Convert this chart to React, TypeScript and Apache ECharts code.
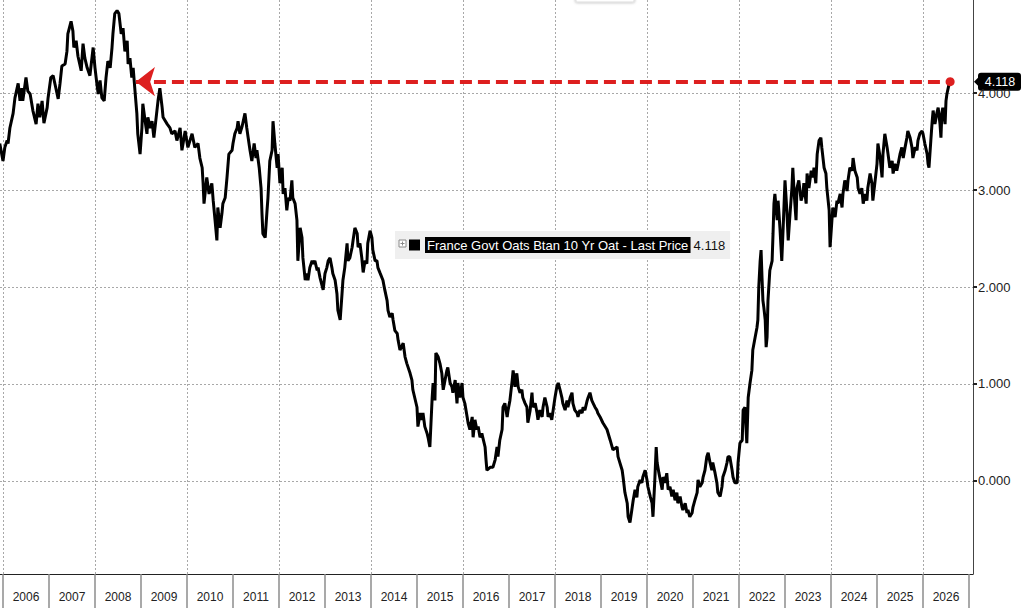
import React, { useEffect, useRef } from 'react';
import * as echarts from 'echarts';

// France Govt OAT 10Y yield, [fractional year, yield %]
const yields2006to2009: [number, number][] = [
  [2005.93,3.48],[2006.00,3.30],[2006.04,3.44],[2006.09,3.51],[2006.11,3.48],[2006.15,3.64],[2006.22,3.79],[2006.26,3.95],[2006.33,4.10],[2006.37,3.92],[2006.41,4.05],[2006.43,3.92],[2006.50,4.16],[2006.54,4.02],[2006.59,3.99],[2006.65,3.82],[2006.72,3.68],[2006.76,3.89],[2006.80,3.75],[2006.85,3.92],[2006.89,3.69],[2006.96,3.85],[2006.98,3.95],
  [2007.04,4.16],[2007.09,4.18],[2007.15,4.05],[2007.20,3.94],[2007.24,4.10],[2007.28,4.28],[2007.35,4.30],[2007.39,4.43],[2007.41,4.61],[2007.48,4.74],[2007.52,4.64],[2007.54,4.47],[2007.59,4.54],[2007.63,4.38],[2007.70,4.23],[2007.74,4.51],[2007.78,4.36],[2007.83,4.26],[2007.89,4.18],[2007.96,4.47],
  [2008.00,4.26],[2008.04,4.10],[2008.07,3.99],[2008.11,4.13],[2008.15,3.95],[2008.20,3.92],[2008.24,4.16],[2008.28,4.33],[2008.33,4.26],[2008.37,4.47],[2008.39,4.61],[2008.43,4.82],[2008.48,4.85],[2008.52,4.82],[2008.57,4.61],[2008.61,4.67],[2008.65,4.43],[2008.70,4.54],[2008.72,4.30],[2008.76,4.36],[2008.80,4.16],[2008.83,4.26],[2008.87,4.02],[2008.91,3.79],[2008.93,3.58],[2008.98,3.37],
  [2009.02,3.64],[2009.04,3.89],[2009.09,3.71],[2009.13,3.58],[2009.15,3.75],[2009.20,3.64],[2009.24,3.71],[2009.28,3.54],[2009.33,3.75],[2009.37,3.92],[2009.41,4.05],[2009.46,3.85],[2009.48,3.75],[2009.57,3.68],[2009.63,3.64],[2009.67,3.58],[2009.74,3.61],[2009.78,3.51],[2009.85,3.64],[2009.89,3.41],[2009.96,3.61],
];

const yields2010to2014: [number, number][] = [
  [2010.02,3.44],[2010.11,3.58],[2010.17,3.44],[2010.24,3.48],[2010.28,3.33],[2010.33,3.23],[2010.35,3.07],[2010.37,2.86],[2010.43,3.13],[2010.48,2.96],[2010.54,3.07],[2010.57,2.89],[2010.61,2.69],[2010.65,2.48],[2010.67,2.82],[2010.72,2.61],[2010.76,2.76],[2010.78,2.86],[2010.83,2.92],[2010.87,3.13],[2010.91,3.37],[2010.98,3.41],
  [2011.00,3.48],[2011.04,3.58],[2011.09,3.64],[2011.11,3.71],[2011.15,3.58],[2011.20,3.66],[2011.26,3.79],[2011.30,3.64],[2011.33,3.54],[2011.37,3.41],[2011.41,3.30],[2011.46,3.48],[2011.50,3.33],[2011.52,3.41],[2011.57,3.23],[2011.61,3.02],[2011.63,2.76],[2011.65,2.55],[2011.70,2.51],[2011.74,2.79],[2011.76,2.92],[2011.80,3.30],[2011.85,3.41],[2011.87,3.71],[2011.91,3.48],[2011.96,3.23],[2011.98,3.37],
  [2012.02,3.07],[2012.07,3.23],[2012.09,2.96],[2012.13,3.02],[2012.17,2.79],[2012.20,2.92],[2012.24,2.89],[2012.28,3.10],[2012.30,2.92],[2012.35,2.86],[2012.39,2.69],[2012.41,2.27],[2012.46,2.61],[2012.50,2.51],[2012.52,2.30],[2012.57,2.07],[2012.61,2.14],[2012.63,2.07],[2012.67,2.20],[2012.72,2.27],[2012.74,2.24],[2012.78,2.27],[2012.83,2.17],[2012.85,2.20],[2012.89,2.10],[2012.96,1.97],
  [2013.00,2.14],[2013.04,2.20],[2013.07,2.27],[2013.11,2.30],[2013.15,2.20],[2013.17,2.14],[2013.22,2.07],[2013.26,1.93],[2013.28,1.76],[2013.33,1.66],[2013.37,1.93],[2013.39,2.07],[2013.43,2.20],[2013.48,2.45],[2013.50,2.27],[2013.54,2.30],[2013.59,2.41],[2013.61,2.48],[2013.65,2.61],[2013.70,2.55],[2013.72,2.41],[2013.76,2.45],[2013.80,2.30],[2013.83,2.15],[2013.87,2.27],[2013.91,2.24],[2013.93,2.45],[2013.98,2.58],
  [2014.02,2.51],[2014.04,2.38],[2014.09,2.27],[2014.13,2.27],[2014.15,2.20],[2014.20,2.14],[2014.26,2.07],[2014.30,1.97],[2014.35,1.86],[2014.37,1.76],[2014.41,1.69],[2014.46,1.73],[2014.48,1.66],[2014.52,1.55],[2014.57,1.52],[2014.59,1.45],[2014.63,1.35],[2014.70,1.42],[2014.74,1.28],[2014.78,1.21],[2014.85,1.11],[2014.89,1.04],[2014.91,0.94],
];

const yields2015to2019: [number, number][] = [
  [2015.00,0.76],[2015.02,0.56],[2015.07,0.70],[2015.11,0.63],[2015.13,0.70],[2015.17,0.56],[2015.22,0.49],[2015.24,0.45],[2015.28,0.35],[2015.33,0.86],[2015.35,1.01],[2015.39,0.83],[2015.41,1.32],[2015.46,1.28],[2015.50,1.21],[2015.54,1.11],[2015.57,0.94],[2015.61,1.04],[2015.65,1.14],[2015.67,1.17],[2015.72,1.01],[2015.76,0.97],[2015.78,0.91],[2015.83,1.04],[2015.87,0.80],[2015.89,1.01],[2015.93,0.86],[2015.98,1.01],
  [2016.00,0.86],[2016.04,0.80],[2016.09,0.66],[2016.11,0.60],[2016.15,0.53],[2016.20,0.66],[2016.22,0.45],[2016.26,0.63],[2016.30,0.53],[2016.33,0.56],[2016.37,0.45],[2016.41,0.49],[2016.43,0.45],[2016.48,0.35],[2016.50,0.22],[2016.52,0.11],[2016.59,0.14],[2016.65,0.14],[2016.70,0.22],[2016.74,0.35],[2016.76,0.25],[2016.80,0.42],[2016.85,0.53],[2016.87,0.76],[2016.91,0.80],[2016.96,0.66],[2016.98,0.73],
  [2017.02,0.83],[2017.07,1.04],[2017.09,1.14],[2017.13,0.97],[2017.17,1.11],[2017.20,0.97],[2017.24,0.91],[2017.28,0.94],[2017.30,0.86],[2017.35,0.80],[2017.39,0.76],[2017.41,0.60],[2017.46,0.73],[2017.50,0.91],[2017.52,0.76],[2017.57,0.80],[2017.61,0.70],[2017.63,0.63],[2017.67,0.73],[2017.72,0.66],[2017.74,0.76],[2017.78,0.86],[2017.83,0.76],[2017.85,0.66],[2017.89,0.70],[2017.93,0.63],[2017.96,0.73],
  [2018.00,0.86],[2018.04,0.97],[2018.07,1.01],[2018.11,0.94],[2018.15,0.86],[2018.17,0.80],[2018.22,0.73],[2018.26,0.83],[2018.28,0.76],[2018.33,0.86],[2018.37,0.91],[2018.39,0.80],[2018.43,0.73],[2018.48,0.70],[2018.50,0.66],[2018.54,0.73],[2018.59,0.70],[2018.61,0.76],[2018.65,0.73],[2018.70,0.83],[2018.72,0.86],[2018.76,0.91],[2018.80,0.83],[2018.83,0.80],[2018.87,0.76],[2018.91,0.73],[2018.93,0.70],[2018.98,0.66],
  [2019.04,0.60],[2019.13,0.53],[2019.20,0.42],[2019.26,0.32],[2019.35,0.35],[2019.37,0.25],[2019.46,0.11],[2019.48,0.04],[2019.52,-0.12],[2019.57,-0.23],[2019.59,-0.37],[2019.63,-0.43],[2019.67,-0.30],[2019.70,-0.20],[2019.74,-0.09],[2019.78,-0.17],[2019.80,-0.06],[2019.85,0.01],[2019.89,-0.02],[2019.91,0.04],[2019.96,0.11],
];

const yields2020to2022: [number, number][] = [
  [2020.00,0.01],[2020.02,-0.06],[2020.07,-0.16],[2020.11,-0.23],[2020.13,-0.37],[2020.17,0.01],[2020.20,0.35],[2020.22,0.19],[2020.26,0.08],[2020.33,-0.09],[2020.35,0.04],[2020.39,-0.02],[2020.43,0.08],[2020.46,-0.09],[2020.50,-0.06],[2020.54,-0.16],[2020.57,-0.09],[2020.61,-0.20],[2020.65,-0.12],[2020.67,-0.23],[2020.72,-0.16],[2020.76,-0.27],[2020.78,-0.30],[2020.83,-0.23],[2020.87,-0.33],[2020.89,-0.30],[2020.93,-0.37],[2020.98,-0.33],
  [2021.00,-0.27],[2021.04,-0.20],[2021.09,-0.12],[2021.11,0.01],[2021.15,-0.06],[2021.20,-0.02],[2021.22,0.04],[2021.26,0.11],[2021.30,0.25],[2021.33,0.29],[2021.37,0.19],[2021.41,0.11],[2021.43,0.19],[2021.48,0.08],[2021.52,-0.02],[2021.54,-0.12],[2021.59,-0.16],[2021.63,-0.06],[2021.65,0.04],[2021.70,0.11],[2021.74,0.19],[2021.76,0.25],[2021.80,0.25],[2021.85,0.11],[2021.87,0.04],[2021.91,-0.02],[2021.96,-0.02],[2021.98,0.19],
  [2022.02,0.39],[2022.07,0.42],[2022.09,0.73],[2022.13,0.76],[2022.17,0.39],[2022.20,0.86],[2022.24,1.01],[2022.28,1.14],[2022.30,1.35],[2022.35,1.48],[2022.39,1.58],[2022.41,1.66],[2022.43,2.00],[2022.46,2.27],[2022.48,2.38],[2022.50,2.10],[2022.52,1.86],[2022.54,1.79],[2022.57,1.66],[2022.59,1.38],[2022.61,1.48],[2022.63,1.86],[2022.67,2.17],[2022.72,2.27],[2022.74,2.55],[2022.76,2.86],[2022.78,2.96],[2022.83,2.69],[2022.85,2.89],[2022.89,2.61],[2022.93,2.27],[2022.96,2.61],
];

const yields2023to2026: [number, number][] = [
  [2023.00,3.10],[2023.04,2.79],[2023.07,2.48],[2023.11,2.76],[2023.15,3.02],[2023.17,3.23],[2023.20,2.96],[2023.24,2.69],[2023.26,3.02],[2023.30,3.10],[2023.35,2.89],[2023.39,2.96],[2023.41,3.07],[2023.46,2.86],[2023.48,3.17],[2023.52,3.02],[2023.57,3.20],[2023.61,3.13],[2023.63,3.23],[2023.67,3.07],[2023.70,3.37],[2023.74,3.51],[2023.78,3.54],[2023.80,3.44],[2023.85,3.23],[2023.89,3.17],[2023.91,3.02],[2023.96,2.79],[2023.98,2.41],
  [2024.02,2.69],[2024.04,2.82],[2024.09,2.72],[2024.13,2.89],[2024.15,2.86],[2024.20,2.96],[2024.24,2.82],[2024.26,2.96],[2024.30,3.10],[2024.35,2.99],[2024.37,3.10],[2024.41,3.23],[2024.46,3.20],[2024.48,3.33],[2024.52,3.20],[2024.57,3.13],[2024.59,3.02],[2024.63,2.96],[2024.67,3.02],[2024.70,2.86],[2024.74,2.96],[2024.78,2.89],[2024.80,3.02],[2024.85,3.17],[2024.89,3.07],[2024.91,2.89],[2024.96,3.10],
  [2025.00,3.27],[2025.02,3.48],[2025.07,3.33],[2025.11,3.13],[2025.13,3.37],[2025.17,3.58],[2025.22,3.44],[2025.24,3.37],[2025.28,3.23],[2025.33,3.30],[2025.35,3.17],[2025.39,3.27],[2025.43,3.20],[2025.46,3.27],[2025.50,3.37],[2025.54,3.44],[2025.57,3.33],[2025.61,3.44],[2025.65,3.54],[2025.67,3.61],[2025.72,3.54],[2025.76,3.44],[2025.78,3.33],[2025.83,3.44],[2025.87,3.41],[2025.89,3.51],[2025.93,3.58],[2025.98,3.61],
  [2026.00,3.58],[2026.04,3.48],[2026.09,3.37],[2026.11,3.27],[2026.13,3.23],[2026.17,3.51],[2026.20,3.71],[2026.22,3.82],[2026.26,3.68],[2026.30,3.79],[2026.33,3.85],[2026.37,3.68],[2026.39,3.54],[2026.41,3.79],[2026.43,3.85],[2026.48,3.68],[2026.50,3.92],[2026.52,3.99],[2026.57,4.10],[2026.59,4.118],
];

const yearTicks = [2006,2007,2008,2009,2010,2011,2012,2013,2014,2015,2016,2017,2018,2019,2020,2021,2022,2023,2024,2025,2026,2027];
const yearLabels = [2006,2007,2008,2009,2010,2011,2012,2013,2014,2015,2016,2017,2018,2019,2020,2021,2022,2023,2024,2025,2026];
const gridYears = [2006,2008,2010,2012,2014,2016,2018,2020,2022,2024,2026];
const yTicks = [0, 1, 2, 3, 4];

const X_MIN = 2005.935;
const X_MAX = 2027.087;
const Y_MIN = -0.96;
const Y_MAX = 4.96;
const SERIES_NAME = 'France Govt Oats Btan 10 Yr Oat - Last Price';
const ARROW_YEAR = 2008.89;

const FONT = 'Liberation Sans, Arial, sans-serif';

export default function App() {
  const ref = useRef<HTMLDivElement>(null);

  useEffect(() => {
    const el = ref.current;
    if (!el) return;
    const chart = echarts.init(el, null, { renderer: 'svg' });
    const data = [
      ...yields2006to2009,
      ...yields2010to2014,
      ...yields2015to2019,
      ...yields2020to2022,
      ...yields2023to2026,
    ];
    const last = data[data.length - 1];
    const lastLabel = last[1].toFixed(3);

    const dotted = { color: '#a8a8a8', type: [2, 2] as number[], width: 1 };

    chart.setOption({
      animation: false,
      backgroundColor: '#ffffff',
      textStyle: { fontFamily: FONT },
      grid: { left: 0, right: 51, top: 0, bottom: 34, containLabel: false },
      legend: {
        left: 395,
        top: 231,
        padding: [6, 5, 6, 14],
        backgroundColor: '#efefef',
        itemWidth: 11,
        itemHeight: 11,
        selectedMode: false,
        z: 6,
        data: [{ name: SERIES_NAME, icon: 'rect', itemStyle: { color: '#000' } }],
        formatter: (name: string) => `{a|${name}}{b|${lastLabel}}`,
        textStyle: {
          fontFamily: FONT,
          rich: {
            a: { color: '#fff', backgroundColor: '#000', fontSize: 13, padding: [2, 2, 1, 2], fontFamily: FONT },
            b: { color: '#111', fontSize: 13, padding: [0, 0, 0, 3], fontFamily: FONT },
          },
        },
      },
      xAxis: [
        {
          type: 'value',
          min: X_MIN,
          max: X_MAX,
          position: 'bottom',
          axisLine: { show: true, onZero: false, lineStyle: { color: '#222', width: 1 } },
          axisTick: { show: true, customValues: yearTicks, length: 34, lineStyle: { color: '#8c8c8c', width: 1.5 } },
          axisLabel: {
            customValues: yearLabels.map((y) => y + 0.5),
            formatter: (v: number) => String(Math.floor(v)),
            color: '#222',
            fontSize: 12,
            margin: 17,
            fontFamily: FONT,
          },
          splitLine: { show: false },
        },
        {
          type: 'value',
          min: X_MIN,
          max: X_MAX,
          position: 'top',
          axisLine: { show: false },
          axisTick: { show: false, customValues: gridYears },
          axisLabel: { show: false },
          splitLine: { show: true, lineStyle: dotted },
        },
      ],
      yAxis: {
        type: 'value',
        position: 'right',
        min: Y_MIN,
        max: Y_MAX,
        axisLine: { show: true, onZero: false, lineStyle: { color: '#444', width: 1 } },
        axisTick: { show: true, customValues: yTicks, length: 4, lineStyle: { color: '#222', width: 2 } },
        axisLabel: {
          customValues: yTicks,
          formatter: (v: number) => v.toFixed(3),
          color: '#222',
          fontSize: 13,
          margin: 5,
          fontFamily: FONT,
        },
        splitLine: { show: true, lineStyle: dotted },
      },
      series: [
        {
          name: SERIES_NAME,
          type: 'line',
          data,
          showSymbol: false,
          symbol: 'none',
          color: '#000',
          lineStyle: { color: '#000', width: 3 },
          z: 3,
          markLine: {
            silent: true,
            animation: false,
            z: 5,
            label: { show: false },
            lineStyle: { color: '#dd1f1f', width: 4, type: [12, 6] },
            data: [
              [
                { coord: [ARROW_YEAR, last[1]], symbol: 'arrow', symbolSize: [22, 19] },
                { coord: [last[0], last[1]], symbol: 'circle', symbolSize: 9 },
              ],
            ],
          },
        },
      ],
    });

    const yPix = chart.convertToPixel({ yAxisIndex: 0 }, last[1]) as number;
    const axisX = chart.convertToPixel({ xAxisIndex: 0 }, X_MAX) as number;
    const legendTop = 231;
    const legendLeft = 395;

    chart.setOption({
      graphic: [
        {
          type: 'rect',
          shape: { x: 576, y: -18, width: 58, height: 20 },
          style: { fill: '#fff', stroke: '#ddd', shadowBlur: 3, shadowColor: 'rgba(0,0,0,0.35)' },
          z: 10,
        },
        {
          type: 'group',
          z: 20,
          children: [
            { type: 'rect', z: 20, shape: { x: legendLeft + 4, y: legendTop + 9, width: 7, height: 7 }, style: { fill: '#fff', stroke: '#8a8a8a', lineWidth: 1 } },
            { type: 'line', z: 21, shape: { x1: legendLeft + 5.5, y1: legendTop + 12.5, x2: legendLeft + 9.5, y2: legendTop + 12.5 }, style: { stroke: '#8a8a8a', lineWidth: 1 } },
            { type: 'line', z: 21, shape: { x1: legendLeft + 7.5, y1: legendTop + 10.5, x2: legendLeft + 7.5, y2: legendTop + 14.5 }, style: { stroke: '#8a8a8a', lineWidth: 1 } },
          ],
        },
        {
          type: 'group',
          z: 30,
          children: [
            { type: 'polygon', shape: { points: [[axisX + 1, yPix], [axisX + 6, yPix - 5], [axisX + 6, yPix + 5]] }, style: { fill: '#000' } },
            { type: 'rect', shape: { x: axisX + 5, y: yPix - 9, width: 43, height: 18, r: 3 }, style: { fill: '#000' } },
            {
              type: 'text',
              x: axisX + 27,
              y: yPix,
              style: { text: lastLabel, fill: '#fff', fontSize: 12.5, fontFamily: FONT, align: 'center', verticalAlign: 'middle' },
            },
          ],
        },
      ],
    });

    return () => chart.dispose();
  }, []);

  return (
    <div
      ref={ref}
      style={{ position: 'fixed', left: 0, top: 0, width: 1024, height: 608, background: '#fff' }}
    />
  );
}
